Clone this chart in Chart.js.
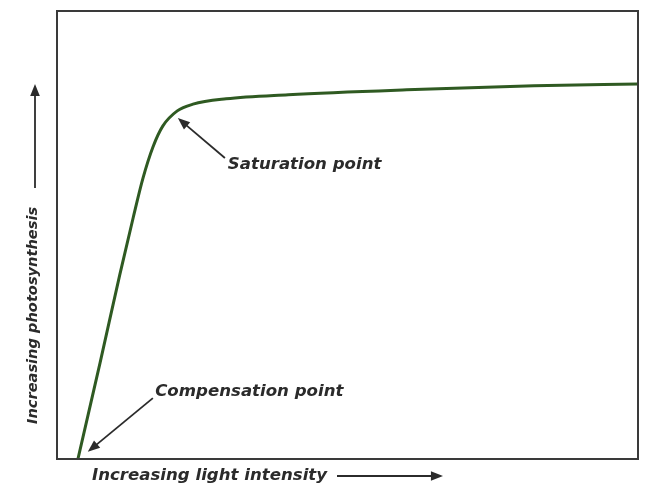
<!DOCTYPE html>
<html>
<head>
<meta charset="utf-8">
<script src="https://cdn.jsdelivr.net/npm/chart.js@4.4.1/dist/chart.umd.min.js"></script>
<style>
  html,body{margin:0;padding:0;background:#fff;}
  #wrap{width:645px;height:486px;}
</style>
</head>
<body>
<div id="wrap"><canvas id="c" width="645" height="486"></canvas></div>
<script>
// light intensity (0..100) vs photosynthesis (0..100)
const lightX = [3.6, 7.4, 10.8, 13.1, 14.8, 16.5, 18.2, 20.7, 23.4, 29.1, 39.8, 60.2, 82.1, 100];
const photoY = [0, 21.4, 41.1, 53.8, 62.7, 69.6, 74.3, 77.7, 79.2, 80.4, 81.3, 82.4, 83.3, 83.7];

// notes: [text, textLeftX, textY, arrowFromX, arrowFromY, arrowToX, arrowToY]
const notes = [
  ['Saturation point',   29.4, 65.6, 28.9, 67.2, 20.8, 76.1],
  ['Compensation point', 16.9, 15.0, 16.5, 13.6, 5.3, 1.6]
];
const xTitle = 'Increasing light intensity';
const yTitle = 'Increasing photosynthesis';

const FONT  = 'italic bold 16.6px "DejaVu Sans"';
const YFONT = 'italic bold 14.6px "DejaVu Sans"';

function arrow(ctx, x1, y1, x2, y2, head){
  const a = Math.atan2(y2-y1, x2-x1);
  ctx.beginPath();
  ctx.moveTo(x1,y1);
  ctx.lineTo(x2 - Math.cos(a)*head*0.6, y2 - Math.sin(a)*head*0.6);
  ctx.stroke();
  ctx.beginPath();
  ctx.moveTo(x2,y2);
  ctx.lineTo(x2 - Math.cos(a-0.38)*head, y2 - Math.sin(a-0.38)*head);
  ctx.lineTo(x2 - Math.cos(a+0.38)*head, y2 - Math.sin(a+0.38)*head);
  ctx.closePath();
  ctx.fill();
}

const decor = {
  id:'decor',
  beforeDraw(chart){
    const ctx = chart.ctx;
    ctx.save();
    ctx.fillStyle='#fff';
    ctx.fillRect(0,0,chart.width,chart.height);
    ctx.restore();
  },
  afterDraw(chart){
    const {ctx, chartArea:a, scales:{x,y}} = chart;
    ctx.save();
    // frame
    ctx.strokeStyle='#3a3a3a';
    ctx.lineWidth=2;
    ctx.strokeRect(a.left, a.top, a.right-a.left, a.bottom-a.top);

    ctx.fillStyle='#2b2b2b';
    ctx.strokeStyle='#2b2b2b';
    ctx.lineWidth=1.8;
    ctx.font=FONT;
    ctx.textBaseline='middle';
    ctx.textAlign='left';
    notes.forEach(n=>{
      ctx.fillText(n[0], x.getPixelForValue(n[1]), y.getPixelForValue(n[2]));
      arrow(ctx, x.getPixelForValue(n[3]), y.getPixelForValue(n[4]),
                 x.getPixelForValue(n[5]), y.getPixelForValue(n[6]), 13);
    });

    // x axis title + arrow
    ctx.fillText(xTitle, 92, 476);
    arrow(ctx, 337, 476, 443, 476, 13);

    // y axis title + arrow
    ctx.font=YFONT;
    ctx.save();
    ctx.translate(33, 424);
    ctx.rotate(-Math.PI/2);
    ctx.fillText(yTitle, 0, 0);
    ctx.restore();
    arrow(ctx, 35, 188, 35, 84, 13);
    ctx.restore();
  }
};

new Chart(document.getElementById('c'), {
  type:'line',
  data:{
    datasets:[{
      data: lightX.map((v,i)=>({x:v, y:photoY[i]})),
      borderColor:'#2f5a22',
      borderWidth:3,
      pointRadius:0,
      cubicInterpolationMode:'monotone',
      fill:false
    }]
  },
  options:{
    responsive:false,
    animation:false,
    layout:{padding:{left:57, right:7, top:11, bottom:27}},
    plugins:{legend:{display:false}, tooltip:{enabled:false}},
    scales:{
      x:{type:'linear', min:0, max:100, display:false},
      y:{type:'linear', min:0, max:100, display:false}
    }
  },
  plugins:[decor]
});
</script>
</body>
</html>
